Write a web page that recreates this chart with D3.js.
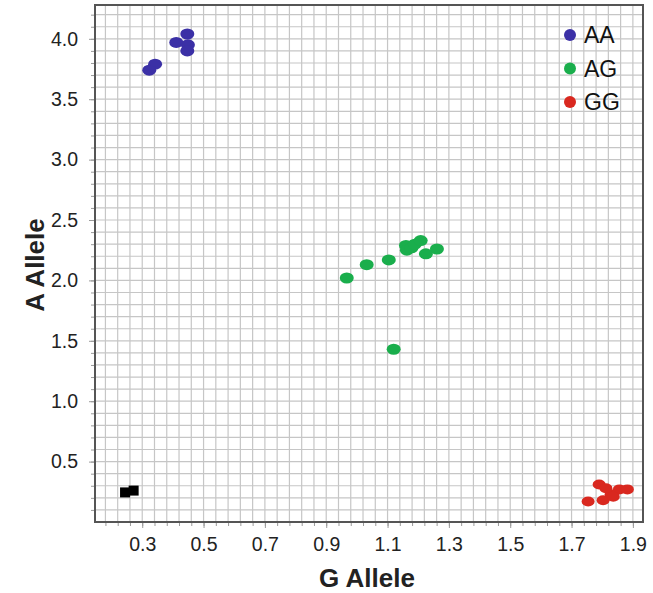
<!DOCTYPE html>
<html>
<head>
<meta charset="utf-8">
<title>Allele scatter</title>
<script src="https://d3js.org/d3.v7.min.js"></script>
<style>
  body { margin: 0; background: #fff; }
  text { font-family: "Liberation Sans", Arial, sans-serif; }
  .grid line { stroke: #c6c6c6; stroke-width: 1.2px; }
  .axis path { display: none; }
  .axis line { stroke: #9a9a9a; }
  .axis text { font-size: 19.5px; fill: #222; }
</style>
</head>
<body>
<svg id="chart"></svg>
<script>
// genotype clusters, [G allele, A allele]
var aaPoints = [[0.447, 4.04], [0.411, 3.97], [0.449, 3.95], [0.447, 3.90], [0.342, 3.79], [0.323, 3.74]];
var agPoints = [[0.967, 2.02], [1.032, 2.13], [1.104, 2.17], [1.160, 2.29], [1.163, 2.25], [1.178, 2.27],
                [1.189, 2.30], [1.208, 2.33], [1.225, 2.22], [1.261, 2.26], [1.120, 1.43]];
var ggPoints = [[1.790, 0.31], [1.754, 0.17], [1.803, 0.18], [1.829, 0.23], [1.856, 0.27], [1.882, 0.27],
                [1.836, 0.21], [1.812, 0.28]];
var ntcPoints = [[0.244, 0.245], [0.272, 0.26]];
var legendLabels = ['AA', 'AG', 'GG'];
var legendColors = ['#3b30a6', '#1aae4c', '#d9281f'];
var xTicks = [0.3, 0.5, 0.7, 0.9, 1.1, 1.3, 1.5, 1.7, 1.9];
var yTicks = [0.5, 1.0, 1.5, 2.0, 2.5, 3.0, 3.5, 4.0];

(function () {
  var W = 653, H = 593,
      pL = 95, pR = 643, pT = 5, pB = 522;

  var x = d3.scaleLinear([0.146, 1.933], [pL, pR]),
      y = d3.scaleLinear([0, 4.28], [pB, pT]);

  var svg = d3.select('#chart').attr('width', W).attr('height', H);

  // fine grid: 0.04 steps on x, 0.1 on y
  var xGrid = d3.range(-4, 42).map(function(k){ return 0.3 + k * 0.04; })
                .filter(function(v){ return x(v) > pL + 1 && x(v) < pR - 1; });
  var yGrid = d3.range(1, 43).map(function(k){ return k / 10; })
                .filter(function(v){ return y(v) > pT + 1; });

  var grid = svg.append('g').attr('class', 'grid');
  grid.selectAll('.gx').data(xGrid).enter().append('line')
      .attr('x1', function(d){ return x(d); }).attr('x2', function(d){ return x(d); })
      .attr('y1', pT).attr('y2', pB);
  grid.selectAll('.gy').data(yGrid).enter().append('line')
      .attr('y1', function(d){ return y(d); }).attr('y2', function(d){ return y(d); })
      .attr('x1', pL).attr('x2', pR);

  // minor ticks outside the frame
  svg.append('g').attr('class', 'axis')
      .attr('transform', 'translate(0,' + pB + ')')
      .call(d3.axisBottom(x).tickValues(xGrid).tickSize(4).tickFormat(''));
  svg.append('g').attr('class', 'axis')
      .attr('transform', 'translate(' + pL + ',0)')
      .call(d3.axisLeft(y).tickValues(yGrid).tickSize(4).tickFormat(''));

  // labelled ticks
  svg.append('g').attr('class', 'axis')
      .attr('transform', 'translate(0,' + pB + ')')
      .call(d3.axisBottom(x).tickValues(xTicks).tickSize(6).tickPadding(9).tickFormat(d3.format('.1f')));
  svg.append('g').attr('class', 'axis')
      .attr('transform', 'translate(' + pL + ',0)')
      .call(d3.axisLeft(y).tickValues(yTicks).tickSize(6).tickPadding(11).tickFormat(d3.format('.1f')));

  // frame
  svg.append('rect')
      .attr('x', pL).attr('y', pT)
      .attr('width', pR - pL).attr('height', pB - pT)
      .attr('fill', 'none').attr('stroke', '#555').attr('stroke-width', 2);

  // points
  var series = [aaPoints, agPoints, ggPoints];
  series.forEach(function(pts, i){
    svg.append('g').selectAll('ellipse').data(pts).enter().append('ellipse')
        .attr('cx', function(d){ return x(d[0]); })
        .attr('cy', function(d){ return y(d[1]); })
        .attr('rx', i == 2 ? 6.5 : 7)
        .attr('ry', i == 2 ? 5 : 5.5)
        .attr('fill', legendColors[i]);
  });
  svg.append('g').selectAll('rect').data(ntcPoints).enter().append('rect')
      .attr('x', function(d){ return x(d[0]) - 5; })
      .attr('y', function(d){ return y(d[1]) - 5; })
      .attr('width', 10).attr('height', 10)
      .attr('fill', '#000');

  // legend
  var lg = svg.append('g').selectAll('g').data(legendLabels).enter().append('g')
      .attr('transform', function(d, i){ return 'translate(570,' + (35 + i * 33.5) + ')'; });
  lg.append('circle').attr('r', 6).attr('fill', function(d, i){ return legendColors[i]; });
  lg.append('text').attr('x', 14).attr('y', 8).style('font-size', '23px').attr('fill', '#111')
      .text(function(d){ return d; });

  // axis titles
  svg.append('text')
      .attr('x', 367).attr('y', 587)
      .attr('text-anchor', 'middle')
      .style('font-size', '26px').style('font-weight', 'bold').attr('fill', '#222')
      .text('G Allele');
  svg.append('text')
      .attr('transform', 'translate(44,265) rotate(-90)')
      .attr('text-anchor', 'middle')
      .style('font-size', '26px').style('font-weight', 'bold').attr('fill', '#222')
      .text('A Allele');
}());
</script>
</body>
</html>
